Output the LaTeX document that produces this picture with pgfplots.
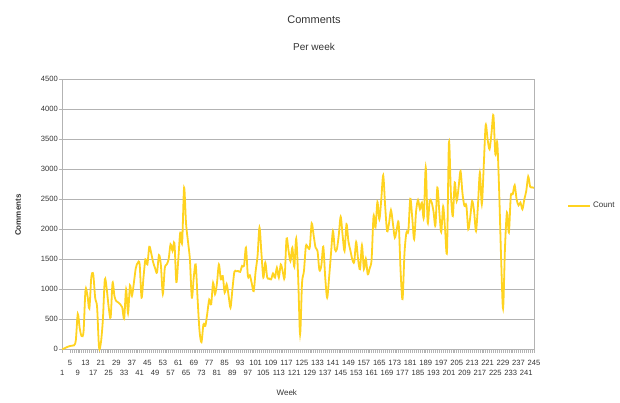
\documentclass[border=0pt]{standalone}
\usepackage{pgfplots}
\usepackage{pgfplotstable}
\pgfplotsset{compat=1.18}
\usepackage{fontspec}
\setmainfont{Liberation Sans}
\definecolor{lineyel}{HTML}{FFD320}
\definecolor{gridc}{HTML}{B3B3B3}
\pgfplotstableread{
week count
1 0
2 15
3 30
4 45
5 55
6 60
7 65
8 150
9 590
10 350
11 220
12 300
13 990
14 900
15 680
16 1200
17 1250
18 860
19 700
20 30
21 120
22 500
23 1165
24 1000
25 700
26 530
27 1110
28 880
29 800
30 780
31 750
32 700
33 510
34 1000
35 600
36 1065
37 890
38 1100
39 1350
40 1440
41 1420
42 860
43 1200
44 1500
45 1415
46 1710
47 1600
48 1450
49 1350
50 1280
51 1570
52 1400
53 920
54 1350
55 1415
56 1500
57 1750
58 1640
59 1770
60 1120
61 1500
62 1945
63 1780
64 2695
65 2100
66 1800
67 1500
68 860
69 1200
70 1415
71 830
72 300
73 120
74 415
75 390
76 600
77 830
78 750
79 1110
80 920
81 1100
82 1415
83 1165
84 1220
85 945
86 1085
87 900
88 695
89 1000
90 1290
91 1300
92 1305
93 1290
94 1390
95 1390
96 1695
97 1220
98 1235
99 1100
100 970
101 1300
102 1555
103 2030
104 1600
105 1195
106 1445
107 1195
108 1180
109 1165
110 1265
111 1195
112 1360
113 1195
114 1415
115 1300
116 1195
117 1845
118 1650
119 1470
120 1695
121 1375
122 1845
123 1200
124 250
125 1100
126 1305
127 1720
128 1700
129 1695
130 2100
131 1900
132 1695
133 1640
134 1320
135 1400
136 1710
137 1200
138 860
139 1195
140 1600
141 1970
142 1665
143 1665
144 1900
145 2210
146 1900
147 1640
148 2085
149 1800
150 1650
151 1500
152 1455
153 1790
154 1500
155 1335
156 1735
157 1335
158 1510
159 1250
160 1350
161 1500
162 2220
163 2030
164 2455
165 2165
166 2500
167 2900
168 2390
169 1970
170 2100
171 2320
172 2100
173 1860
174 2000
175 2100
176 1300
177 835
178 1600
179 1945
180 1970
181 2510
182 2200
183 1835
184 2300
185 2490
186 2335
187 2445
188 2195
189 3030
190 2110
191 2470
192 2455
193 2300
194 2065
195 2695
196 2300
197 1955
198 2380
199 2000
200 1640
201 3455
202 2600
203 2220
204 2780
205 2470
206 2700
207 2970
208 2600
209 2390
210 2400
211 2000
212 2200
213 2470
214 2300
215 1970
216 2400
217 2945
218 2415
219 3055
220 3735
221 3500
222 3335
223 3600
224 3900
225 3250
226 3445
227 2610
228 1500
229 680
230 1700
231 2280
232 1945
233 2555
234 2585
235 2735
236 2500
237 2400
238 2445
239 2335
240 2500
241 2640
242 2880
243 2710
244 2700
245 2690
}\datatable
\begin{document}
\begin{tikzpicture}[x=1pt,y=1pt]
\path[use as bounding box] (0,0) rectangle (620,403);
\begin{axis}[
  at={(62.3pt,53.7pt)}, anchor=south west,
  scale only axis, width=471.7pt, height=270pt,
  xmin=1, xmax=245, ymin=0, ymax=4500,
  ytick={0,500,...,4500},
  ymajorgrids, grid style={gridc, line width=0.6pt},
  axis line style={gridc, line width=0.6pt},
  xtick={5,13,...,245},
  extra x ticks={1,9,...,241},
  extra x tick style={xticklabel style={yshift=-10.2pt}, xmajorgrids=false},
  minor x tick num=7,
  tick align=outside, tick pos=left,
  major tick length=3.3pt, minor tick length=3.3pt,
  tick style={gridc, line width=0.5pt},
  every tick label/.append style={font=\fontsize{7.6}{9}\selectfont, text=black!80, inner sep=1pt},
  /pgf/number format/assume math mode=true,
  scaled y ticks=false,
  yticklabel style={/pgf/number format/.cd, fixed, set thousands separator={}},
  xticklabel style={yshift=-6.3pt},
  clip=false,
  legend style={at={(rel axis cs:1.064,0.531)}, anchor=west, draw=none, fill=none,
    font=\fontsize{8}{9}\selectfont, text=black!80,
    legend cell align=left},
  legend image code/.code={\draw[#1] (0pt,0pt) -- (22pt,0pt);},
]
\addplot[lineyel, line width=1.8pt, smooth, tension=0.5] table[x=week, y=count] {\datatable};
\addlegendentry{Count}
\node[font=\fontsize{11}{13}\selectfont, text=black!80] at (rel axis cs:0.5336,1.2196) {Comments};
\node[font=\fontsize{10}{12}\selectfont, text=black!80] at (rel axis cs:0.5336,1.12) {Per week};
\node[font=\bfseries\fontsize{8}{9}\selectfont, rotate=90, text=black!80] at (rel axis cs:-0.0939,0.497) {Comments};
\node[font=\fontsize{8}{9}\selectfont, text=black!80] at (rel axis cs:0.476,-0.162) {Week};
\end{axis}
\end{tikzpicture}
\end{document}
